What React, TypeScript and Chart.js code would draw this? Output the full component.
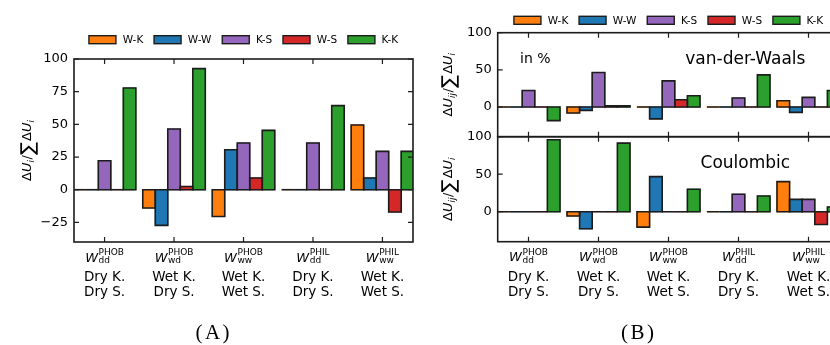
import React, { useEffect, useRef } from 'react';
import { Chart, registerables } from 'chart.js';

Chart.register(...registerables);
Chart.defaults.font.family = "'DejaVu Sans'";

// ---------- data ----------
const groupIndex = [0, 1, 2, 3, 4];
const wSup = ['PHOB', 'PHOB', 'PHOB', 'PHIL', 'PHIL'];
const wSub = ['dd', 'wd', 'ww', 'dd', 'ww'];
const kineticLabels = ['Dry K.', 'Wet K.', 'Wet K.', 'Dry K.', 'Wet K.'];
const substrateLabels = ['Dry S.', 'Dry S.', 'Wet S.', 'Dry S.', 'Wet S.'];
const seriesNames = ['W-K', 'W-W', 'K-S', 'W-S', 'K-K'];
const seriesColors = ['#ff7f0e', '#1f77b4', '#9467bd', '#d62728', '#2ca02c'];

// (A) total contributions in %
const totalWK = [0, -14, -20.5, 0, 49.5];
const totalWW = [0, -27.3, 30.6, 0, 9];
const totalKS = [22.2, 46.4, 35.7, 35.7, 29.3];
const totalWS = [0, 2.5, 9, 0, -17];
const totalKK = [77.8, 92.6, 45.4, 64.3, 29.3];

// (B) van-der-Waals part
const vdwWK = [0, -8, 0, 0, 8.4];
const vdwWW = [0, -4.5, -16, 0, -7.2];
const vdwKS = [22.2, 46.4, 35.2, 12, 12.9];
const vdwWS = [0, 1.5, 9.8, 0, 0];
const vdwKK = [-18.3, 1.5, 15.1, 43.2, 22.2];

// (B) Coulombic part
const coulWK = [0, -5.8, -20.6, 0, 40.1];
const coulWW = [0, -22.8, 46.8, 0, 16.4];
const coulKS = [0, 0, 0, 23.2, 16.4];
const coulWS = [0, 0, 0, 0, -17];
const coulKK = [96, 91.4, 29.9, 20.9, 6.2];

const yTicksA = [-25, 0, 25, 50, 75, 100];
const yTicksB = [0, 50, 100];
const yMin = -40;
const yMax = 100;
const xMin = -0.44;
const xMax = 4.44;

// ---------- drawing helpers ----------
const EDGE = '#1c1c1c';
const FONT = "'DejaVu Sans'";

function drawSegs(ctx: any, segs: any[], cx: number, cy: number, rotate: boolean) {
  ctx.save();
  ctx.translate(cx, cy);
  if (rotate) ctx.rotate(-Math.PI / 2);
  let total = 0;
  for (const s of segs) {
    ctx.font = s.font;
    total += ctx.measureText(s.t).width + (s.dx || 0);
  }
  let x = -total / 2;
  ctx.textAlign = 'left';
  ctx.textBaseline = 'alphabetic';
  ctx.fillStyle = '#000';
  for (const s of segs) {
    ctx.font = s.font;
    x += s.dx || 0;
    ctx.fillText(s.t, x, s.dy || 0);
    x += ctx.measureText(s.t).width;
  }
  ctx.restore();
}

function yLabelSegs(sub: string) {
  const main = `13px ${FONT}`;
  const it = `italic 13px ${FONT}`;
  const sm = `italic 9px ${FONT}`;
  return [
    { t: 'Δ', font: main },
    { t: 'U', font: it },
    { t: sub, font: sm, dy: 3 },
    { t: '/', font: main, dx: 0.5 },
    { t: '∑', font: `19px ${FONT}`, dy: 3, dx: 0.5 },
    { t: 'Δ', font: main, dx: 1 },
    { t: 'U', font: it },
    { t: 'i', font: sm, dy: 3 },
  ];
}

// matplotlib-like bar edges: stroke every bar outline (centred on its edge),
// using the geometry Chart.js computed for the bar elements
function drawBarEdges(chart: any) {
  const { ctx, chartArea: a } = chart;
  ctx.save();
  ctx.beginPath();
  ctx.rect(a.left, a.top, a.right - a.left, a.bottom - a.top);
  ctx.clip();
  ctx.strokeStyle = EDGE;
  ctx.lineWidth = 1.6;
  ctx.lineJoin = 'miter';
  chart.data.datasets.forEach((_: any, di: number) => {
    const meta = chart.getDatasetMeta(di);
    meta.data.forEach((el: any) => {
      if (el.skip) return;
      const p = el.getProps(['x', 'y', 'base', 'width'], true);
      const left = p.x - p.width / 2;
      const top = Math.min(p.y, p.base);
      const h = Math.abs(p.base - p.y);
      ctx.beginPath();
      if (h < 0.5) {
        ctx.moveTo(left, p.base);
        ctx.lineTo(left + p.width, p.base);
      } else {
        ctx.rect(left, top, p.width, h);
      }
      ctx.stroke();
    });
  });
  ctx.restore();
}

function drawFrame(chart: any) {
  const { ctx, chartArea: a, scales } = chart;
  const xs = scales.x;
  const ys = scales.y;
  ctx.save();
  ctx.strokeStyle = EDGE;
  ctx.lineWidth = 1.6;
  ctx.strokeRect(a.left, a.top, a.right - a.left, a.bottom - a.top);
  const tl = 5;
  ctx.lineWidth = 1.2;
  ctx.beginPath();
  for (const v of groupIndex) {
    const px = xs.getPixelForValue(v);
    ctx.moveTo(px, a.top);
    ctx.lineTo(px, a.top + tl);
    ctx.moveTo(px, a.bottom);
    ctx.lineTo(px, a.bottom - tl);
  }
  for (const t of ys.ticks) {
    const py = ys.getPixelForValue(t.value);
    ctx.moveTo(a.left, py);
    ctx.lineTo(a.left + tl, py);
    ctx.moveTo(a.right, py);
    ctx.lineTo(a.right - tl, py);
  }
  ctx.stroke();
  ctx.restore();
}

function drawXLabels(chart: any) {
  const { ctx, chartArea: a, scales } = chart;
  const xs = scales.x;
  ctx.save();
  ctx.fillStyle = '#000';
  ctx.textBaseline = 'alphabetic';
  groupIndex.forEach((v, i) => {
    const px = xs.getPixelForValue(v);
    ctx.font = `italic 13px ${FONT}`;
    const wW = ctx.measureText('W').width;
    ctx.font = `9px ${FONT}`;
    const wSupW = ctx.measureText(wSup[i]).width;
    const wSubW = ctx.measureText(wSub[i]).width;
    const total = wW + 0.5 + Math.max(wSupW, wSubW);
    const x0 = px - total / 2;
    ctx.textAlign = 'left';
    ctx.font = `italic 13px ${FONT}`;
    ctx.fillText('W', x0, a.bottom + 19.5);
    ctx.font = `9px ${FONT}`;
    ctx.fillText(wSup[i], x0 + wW + 0.5, a.bottom + 13);
    ctx.fillText(wSub[i], x0 + wW + 0.5, a.bottom + 21);
    ctx.textAlign = 'center';
    ctx.font = `13.5px ${FONT}`;
    ctx.fillText(kineticLabels[i], px, a.bottom + 39);
    ctx.fillText(substrateLabels[i], px, a.bottom + 54);
  });
  ctx.restore();
}

function drawLegend(ctx: any, cx: number, cy: number) {
  ctx.save();
  ctx.font = `10.5px ${FONT}`;
  const boxW = 27;
  const boxH = 8;
  const gapText = 6.7;
  const gapCol = 10.8;
  const widths = seriesNames.map((n) => ctx.measureText(n).width);
  const total =
    widths.reduce((s, w) => s + boxW + gapText + w, 0) + gapCol * (seriesNames.length - 1);
  let x = cx - total / 2;
  ctx.textBaseline = 'middle';
  ctx.textAlign = 'left';
  seriesNames.forEach((n, k) => {
    ctx.fillStyle = seriesColors[k];
    ctx.fillRect(x, cy - boxH / 2, boxW, boxH);
    ctx.strokeStyle = EDGE;
    ctx.lineWidth = 1.4;
    ctx.strokeRect(x, cy - boxH / 2, boxW, boxH);
    x += boxW + gapText;
    ctx.fillStyle = '#000';
    ctx.fillText(n, x, cy + 0.5);
    x += widths[k] + gapCol;
  });
  ctx.restore();
}

function drawPanelLetter(ctx: any, letter: string, cx: number, baseline: number) {
  ctx.save();
  ctx.font = `21px 'Liberation Serif'`;
  ctx.fillStyle = '#000';
  ctx.textBaseline = 'alphabetic';
  ctx.textAlign = 'left';
  const parts = ['(', letter, ')'];
  const gap = 2.5;
  const ws = parts.map((p) => ctx.measureText(p).width);
  const total = ws.reduce((s, w) => s + w, 0) + gap * 2;
  let x = cx - total / 2;
  parts.forEach((p, i) => {
    ctx.fillText(p, x, baseline);
    x += ws[i] + gap;
  });
  ctx.restore();
}

function panelPlugin(cfg: any) {
  return {
    id: 'panel_' + cfg.key,
    afterDatasetsDraw(chart: any) {
      const { ctx, chartArea: a } = chart;
      drawBarEdges(chart);
      drawFrame(chart);
      if (cfg.xLabels) drawXLabels(chart);
      drawSegs(ctx, yLabelSegs(cfg.ySub), cfg.yLabelX, (a.top + a.bottom) / 2, true);
      if (cfg.legendY != null) drawLegend(ctx, (a.left + a.right) / 2, cfg.legendY);
      if (cfg.texts) {
        for (const t of cfg.texts) {
          ctx.save();
          ctx.font = t.font;
          ctx.fillStyle = '#000';
          ctx.textAlign = t.align;
          ctx.textBaseline = 'alphabetic';
          const x = t.align === 'left' ? a.left + t.dx : a.left + t.fx * (a.right - a.left);
          ctx.fillText(t.text, x, a.top + t.dy);
          ctx.restore();
        }
      }
      if (cfg.letter) drawPanelLetter(ctx, cfg.letter, cfg.letterX, 339);
    },
  };
}

function makeChart(canvas: any, values: number[][], yTicks: number[], padding: any, yWidth: number, plugin: any) {
  const datasets = values.map((vals, k) => ({
    label: seriesNames[k],
    data: vals.map((v, i) => ({ x: groupIndex[i], y: v })),
    backgroundColor: seriesColors[k],
    borderWidth: 0,
    inflateAmount: 0.5,
    categoryPercentage: 0.9,
    barPercentage: 1,
    clip: 0,
  }));
  return new Chart(canvas, {
    type: 'bar',
    data: { datasets },
    options: {
      animation: false,
      responsive: false,
      maintainAspectRatio: false,
      layout: { padding },
      plugins: { legend: { display: false }, tooltip: { enabled: false } },
      scales: {
        x: {
          type: 'linear',
          min: xMin,
          max: xMax,
          offset: false,
          display: false,
          afterBuildTicks: (s: any) => {
            s.ticks = groupIndex.map((v) => ({ value: v }));
          },
        },
        y: {
          type: 'linear',
          min: yMin,
          max: yMax,
          afterBuildTicks: (s: any) => {
            s.ticks = yTicks.map((v) => ({ value: v }));
          },
          afterFit: (s: any) => {
            s.width = yWidth;
          },
          grid: { display: false, drawTicks: false },
          border: { display: false },
          ticks: {
            autoSkip: false,
            font: { family: 'DejaVu Sans', size: 13 },
            color: '#000',
            padding: 6,
            callback: (v: any) => String(v).replace('-', '\u2212'),
          },
        },
      },
    },
    plugins: [plugin],
  } as any);
}

export default function App() {
  const refA = useRef<HTMLCanvasElement>(null);
  const refB1 = useRef<HTMLCanvasElement>(null);
  const refB2 = useRef<HTMLCanvasElement>(null);

  useEffect(() => {
    const charts = [
      makeChart(
        refA.current,
        [totalWK, totalWW, totalKS, totalWS, totalKK],
        yTicksA,
        { left: 0, right: 7, top: 59, bottom: 103 },
        74,
        panelPlugin({ key: 'A', xLabels: true, ySub: 'i', yLabelX: 30.5, legendY: 39.7, letter: 'A', letterX: 212.5 })
      ),
      makeChart(
        refB1.current,
        [vdwWK, vdwWW, vdwKS, vdwWS, vdwKK],
        yTicksB,
        { left: 0, right: 20.7, top: 32.7, bottom: 208.3 },
        77.7,
        panelPlugin({
          key: 'B1',
          xLabels: false,
          ySub: 'ij',
          yLabelX: 31.7,
          legendY: 20.3,
          texts: [
            { text: 'in %', font: `14px ${FONT}`, align: 'left', dx: 22.3, dy: 30 },
            { text: 'van-der-Waals', font: `17px ${FONT}`, align: 'center', fx: 0.725, dy: 31.3 },
          ],
        })
      ),
      makeChart(
        refB2.current,
        [coulWK, coulWW, coulKS, coulWS, coulKK],
        yTicksB,
        { left: 0, right: 20.7, top: 136.7, bottom: 103.3 },
        77.7,
        panelPlugin({
          key: 'B2',
          xLabels: true,
          ySub: 'ij',
          yLabelX: 31.7,
          texts: [{ text: 'Coulombic', font: `17px ${FONT}`, align: 'center', fx: 0.725, dy: 31.6 }],
          letter: 'B',
          letterX: 217.5,
        })
      ),
    ];
    return () => charts.forEach((c) => c.destroy());
  }, []);

  const cs: any = { position: 'absolute', top: 0 };
  return (
    <div
      style={{
        position: 'fixed',
        left: 0,
        top: 0,
        width: 830,
        height: 345,
        overflow: 'hidden',
        background: '#ffffff',
      }}
    >
      <canvas ref={refA} width={420} height={345} style={{ ...cs, left: 0, width: 420, height: 345 }} />
      <canvas ref={refB1} width={440} height={345} style={{ ...cs, left: 420, width: 440, height: 345 }} />
      <canvas ref={refB2} width={440} height={345} style={{ ...cs, left: 420, width: 440, height: 345 }} />
    </div>
  );
}
